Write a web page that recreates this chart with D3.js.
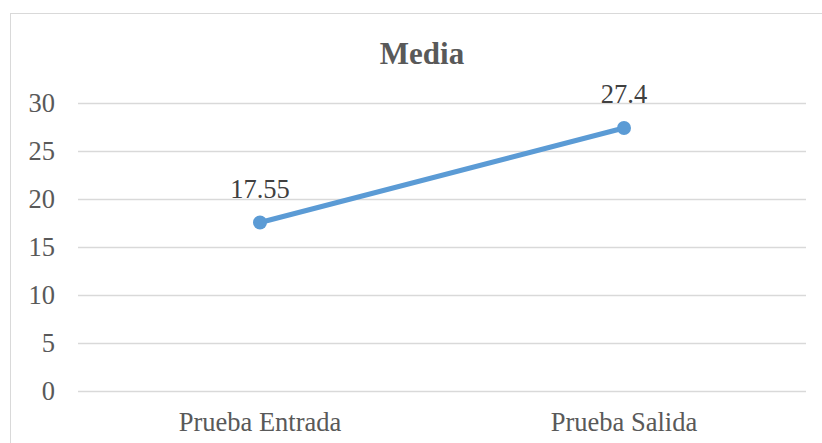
<!DOCTYPE html>
<html><head><meta charset="utf-8">
<script src="https://cdn.jsdelivr.net/npm/d3@7"></script>
<style>body{margin:0;background:#fff}svg{display:block}
svg text{font-family:"Liberation Serif","Times New Roman",Times,serif !important}</style>
</head><body><svg id="c" width="822" height="443"></svg>
<script>
const categories = ["Prueba Entrada", "Prueba Salida"];
const values = [17.55, 27.4];
const valueLabels = ["17.55", "27.4"];
const yTicks = [0, 5, 10, 15, 20, 25, 30];
const title = "Media";

const svg = d3.select("#c");
svg.append("rect").attr("x",10.5).attr("y",13.5).attr("width",830).attr("height",450)
  .attr("fill","#fff").attr("stroke","#d9d9d9").attr("stroke-width",1);

const x = d3.scaleBand().domain(categories).range([78, 806]);
const y = d3.scaleLinear().domain([0, 30]).range([391, 103]);

svg.append("text").attr("x",422).attr("y",64).attr("text-anchor","middle")
  .attr("font-weight","bold").attr("font-size",31)
  .attr("fill","#595959").text(title);

const yAxis = svg.append("g").attr("transform","translate(78,0)")
  .call(d3.axisLeft(y).tickValues(yTicks).tickSize(-728).tickPadding(23));
yAxis.select(".domain").remove();
yAxis.selectAll("line").attr("stroke","#d9d9d9").attr("stroke-width",1.3);
yAxis.selectAll("text").attr("font-size",26.5).attr("fill","#595959");

const xAxis = svg.append("g").attr("transform","translate(0,391)")
  .call(d3.axisBottom(x).tickSize(0).tickPadding(21));
xAxis.select(".domain").remove();
xAxis.selectAll("text").attr("font-size",26.5).attr("fill","#595959");

const pts = categories.map((c,i)=>({c, v: values[i], l: valueLabels[i]}));
const cx = d => x(d.c) + x.bandwidth()/2;
svg.append("path").datum(pts)
  .attr("d", d3.line().x(cx).y(d=>y(d.v)))
  .attr("fill","none").attr("stroke","#5b9bd5").attr("stroke-width",5).attr("stroke-linecap","round");
svg.selectAll("circle.p").data(pts).enter().append("circle")
  .attr("cx",cx).attr("cy",d=>y(d.v)).attr("r",7).attr("fill","#5b9bd5");
svg.selectAll("text.lbl").data(pts).enter().append("text")
  .attr("x",cx).attr("y",d=>y(d.v)-24.5).attr("text-anchor","middle")
  .attr("font-size",26.5).attr("fill","#404040").text(d=>d.l);
</script></body></html>
